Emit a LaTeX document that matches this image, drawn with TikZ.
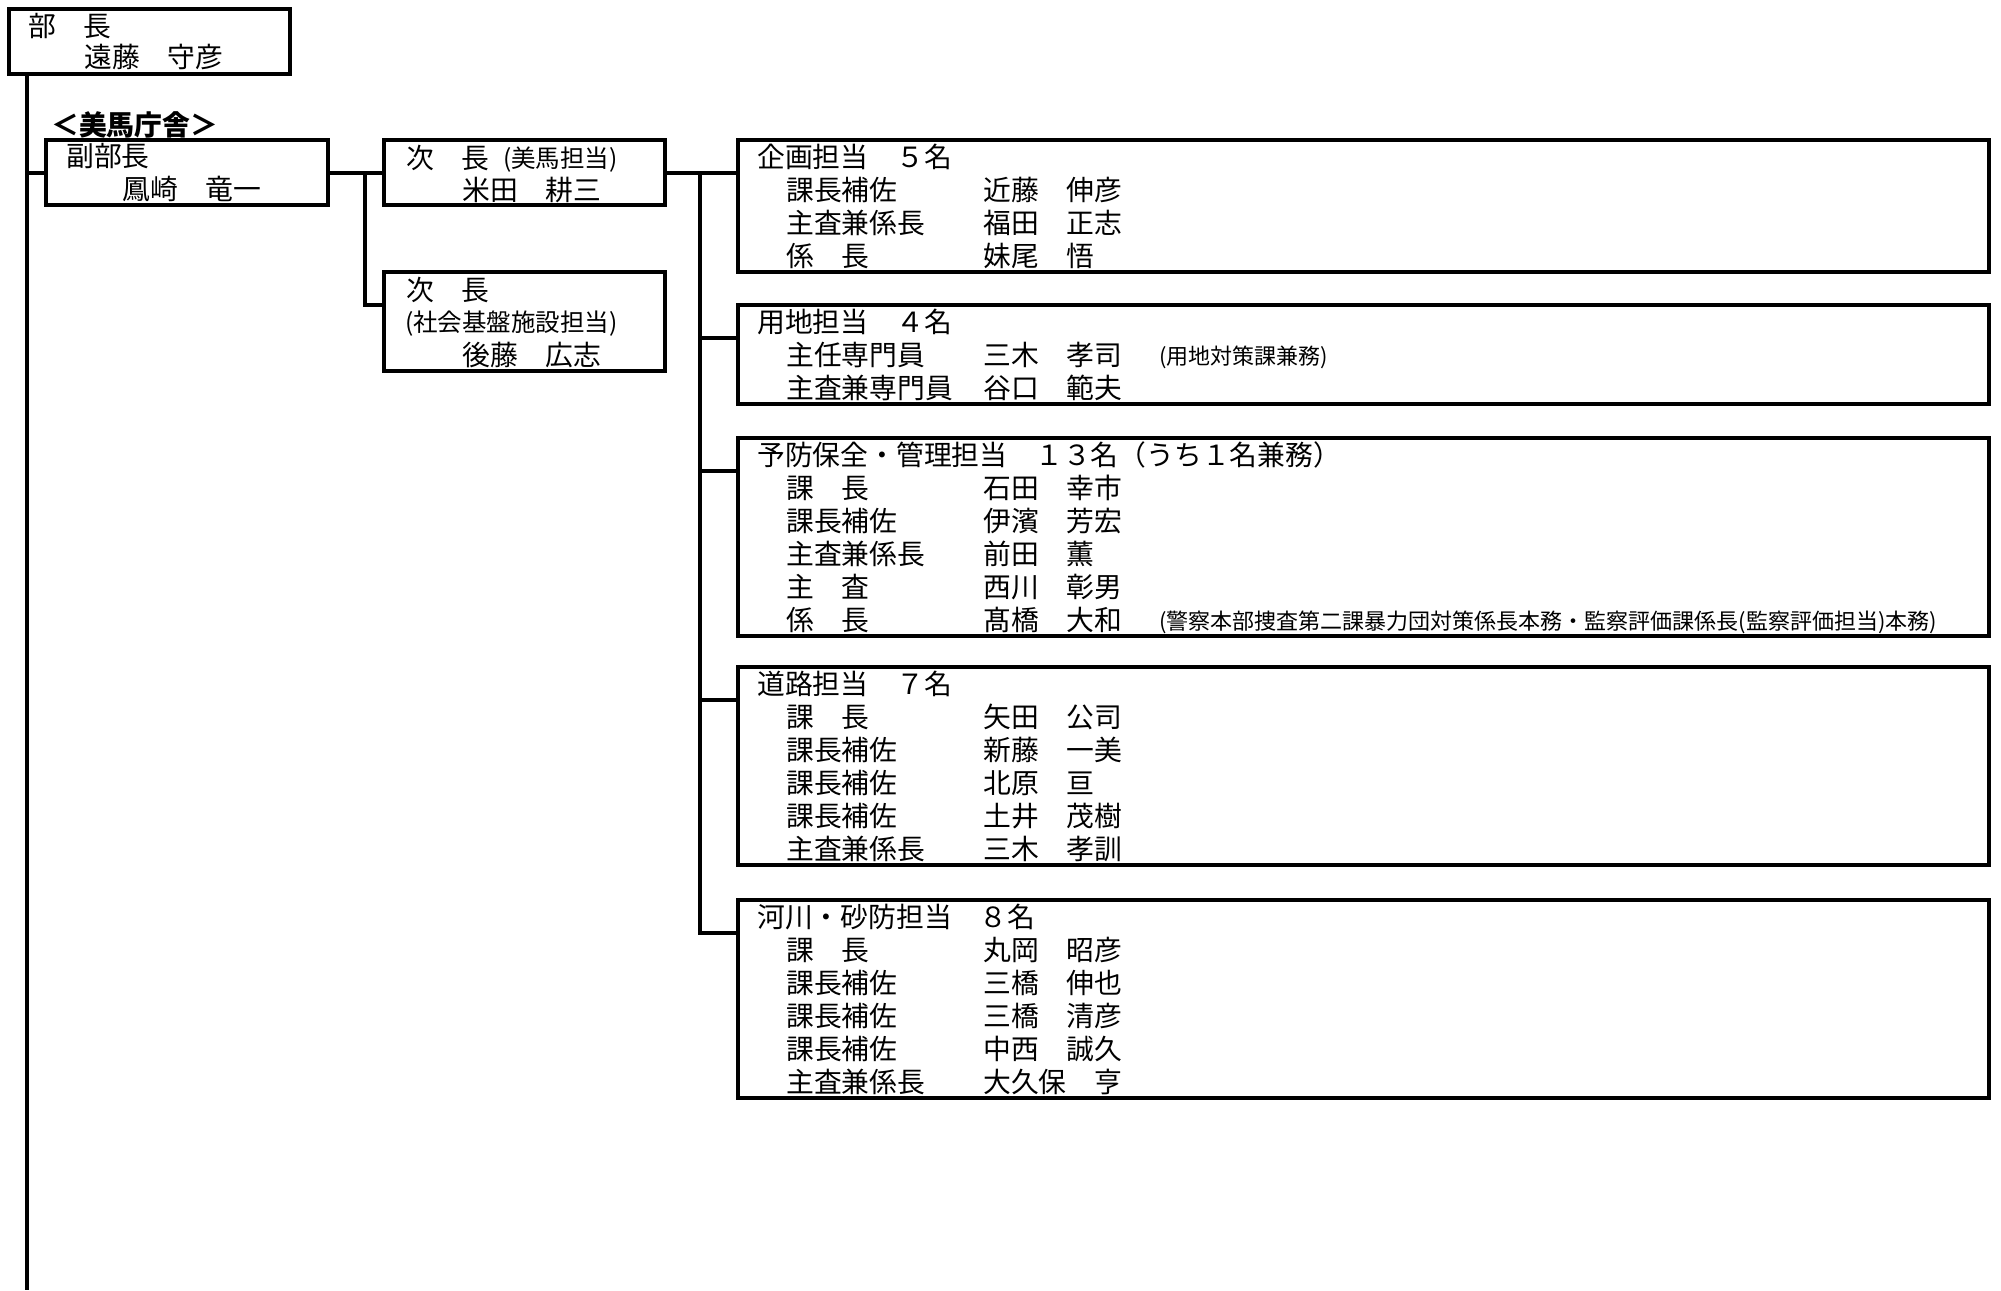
\documentclass[tikz,border=0pt]{standalone}
\usepackage{fontspec}
\setmainfont{Noto Sans CJK JP}
\usetikzlibrary{calc}
\newcommand\stf[4]{%
  \node[txt] (#1r) at (786,#2) {#3};
  \node[txt] (#1p) at (983,#2) {#4};}
\begin{document}
\begin{tikzpicture}[x=1pt,y=-1pt,
  box/.style={draw, line width=3.2pt, rectangle, inner sep=0pt, outer sep=0pt, anchor=north west},
  conn/.style={line width=3.2pt},
  txt/.style={anchor=west, inner sep=0pt, font=\fontsize{27.8}{33}\selectfont},
  sm/.style={anchor=west, inner sep=0pt, font=\fontsize{22}{26}\selectfont},
  smb/.style={anchor=west, inner sep=0pt, font=\fontsize{24.5}{29}\selectfont},
]
\useasboundingbox (0,0) rectangle (2001,1290);
\fill[white] (0,0) rectangle (2001,1290);

% boxes
\node[box, minimum width=281pt, minimum height=65pt] (top) at (9,9) {};
\node[box, minimum width=282pt, minimum height=65pt] (fuku) at (46,140) {};
\node[box, minimum width=281pt, minimum height=65pt] (jiA) at (384,140) {};
\node[box, minimum width=281pt, minimum height=99pt] (jiB) at (384,272) {};
\node[box, minimum width=1251pt, minimum height=132pt] (kk) at (738,140) {};
\node[box, minimum width=1251pt, minimum height=99pt] (yc) at (738,305) {};
\node[box, minimum width=1251pt, minimum height=198pt] (yb) at (738,438) {};
\node[box, minimum width=1251pt, minimum height=198pt] (dr) at (738,667) {};
\node[box, minimum width=1251pt, minimum height=198pt] (ks) at (738,900) {};

% branch points
\path (fuku.north west) ++(0,33) coordinate (fukub);
\path (jiA.north west) ++(0,33) coordinate (jiAb);
\path (jiB.north west) ++(0,33) coordinate (jiBb);
\path (kk.north west) ++(0,33) coordinate (kkb);
\path (yc.north west) ++(0,33) coordinate (ycb);
\path (yb.north west) ++(0,33) coordinate (ybb);
\path (dr.north west) ++(0,33) coordinate (drb);
\path (ks.north west) ++(0,33) coordinate (ksb);
\coordinate (mbot) at (27,1290);
\coordinate (j1) at (365,0);
\coordinate (j2) at (700,0);

% connectors
\draw[conn] (top.south west -| mbot) -- (mbot);
\draw[conn] (fukub -| mbot) -- (fukub);
\draw[conn] (fukub -| fuku.east) -- (jiAb);
\draw[conn] (j1 |- fukub) -- (j1 |- jiBb) -- (jiBb);
\draw[conn] (jiAb -| jiA.east) -- (kkb);
\draw[conn] (j2 |- kkb) -- (j2 |- ksb) -- (ksb);
\draw[conn] (j2 |- ycb) -- (ycb);
\draw[conn] (j2 |- ybb) -- (ybb);
\draw[conn] (j2 |- drb) -- (drb);

% texts
\node[txt] (t1) at (28,26) {部　長};
\node[txt] (t2) at (84,57) {遠藤　守彦};
\node[txt, font=\fontsize{27.8}{33}\selectfont\bfseries] (lab) at (51,125) {＜美馬庁舎＞};
\node[txt] (f1) at (66,156) {副部長};
\node[txt] (f2) at (122,189) {鳳崎　竜一};
\node[txt] (a1) at (406,158) {次　長};
\node[smb] (a2) at (503,160) {(美馬担当)};
\node[txt] (a3) at (462,190) {米田　耕三};
\node[txt] (b1) at (406,290) {次　長};
\node[smb] (b2) at (405,324) {(社会基盤施設担当)};
\node[txt] (b3) at (462,355) {後藤　広志};

\node[txt] (kh) at (757,157) {企画担当　５名};
\stf{k1}{190}{課長補佐}{近藤　伸彦}
\stf{k2}{223}{主査兼係長}{福田　正志}
\stf{k3}{256}{係　長}{妹尾　悟}

\node[txt] (yh) at (757,322) {用地担当　４名};
\stf{y1}{355}{主任専門員}{三木　孝司}
\node[sm] (yn) at (1159,357) {(用地対策課兼務)};
\stf{y2}{388}{主査兼専門員}{谷口　範夫}

\node[txt] (bh) at (757,455) {予防保全・管理担当　１３名（うち１名兼務）};
\stf{b1}{488}{課　長}{石田　幸市}
\stf{b2}{521}{課長補佐}{伊濱　芳宏}
\stf{b3}{554}{主査兼係長}{前田　薫}
\stf{b4}{587}{主　査}{西川　彰男}
\stf{b5}{620}{係　長}{髙橋　大和}
\node[sm] (bn) at (1159,622) {(警察本部捜査第二課暴力団対策係長本務・監察評価課係長(監察評価担当)本務)};

\node[txt] (dh) at (757,684) {道路担当　７名};
\stf{d1}{717}{課　長}{矢田　公司}
\stf{d2}{750}{課長補佐}{新藤　一美}
\stf{d3}{783}{課長補佐}{北原　亘}
\stf{d4}{816}{課長補佐}{土井　茂樹}
\stf{d5}{849}{主査兼係長}{三木　孝訓}

\node[txt] (sh) at (757,917) {河川・砂防担当　８名};
\stf{s1}{950}{課　長}{丸岡　昭彦}
\stf{s2}{983}{課長補佐}{三橋　伸也}
\stf{s3}{1016}{課長補佐}{三橋　清彦}
\stf{s4}{1049}{課長補佐}{中西　誠久}
\stf{s5}{1082}{主査兼係長}{大久保　亨}
\end{tikzpicture}
\end{document}
